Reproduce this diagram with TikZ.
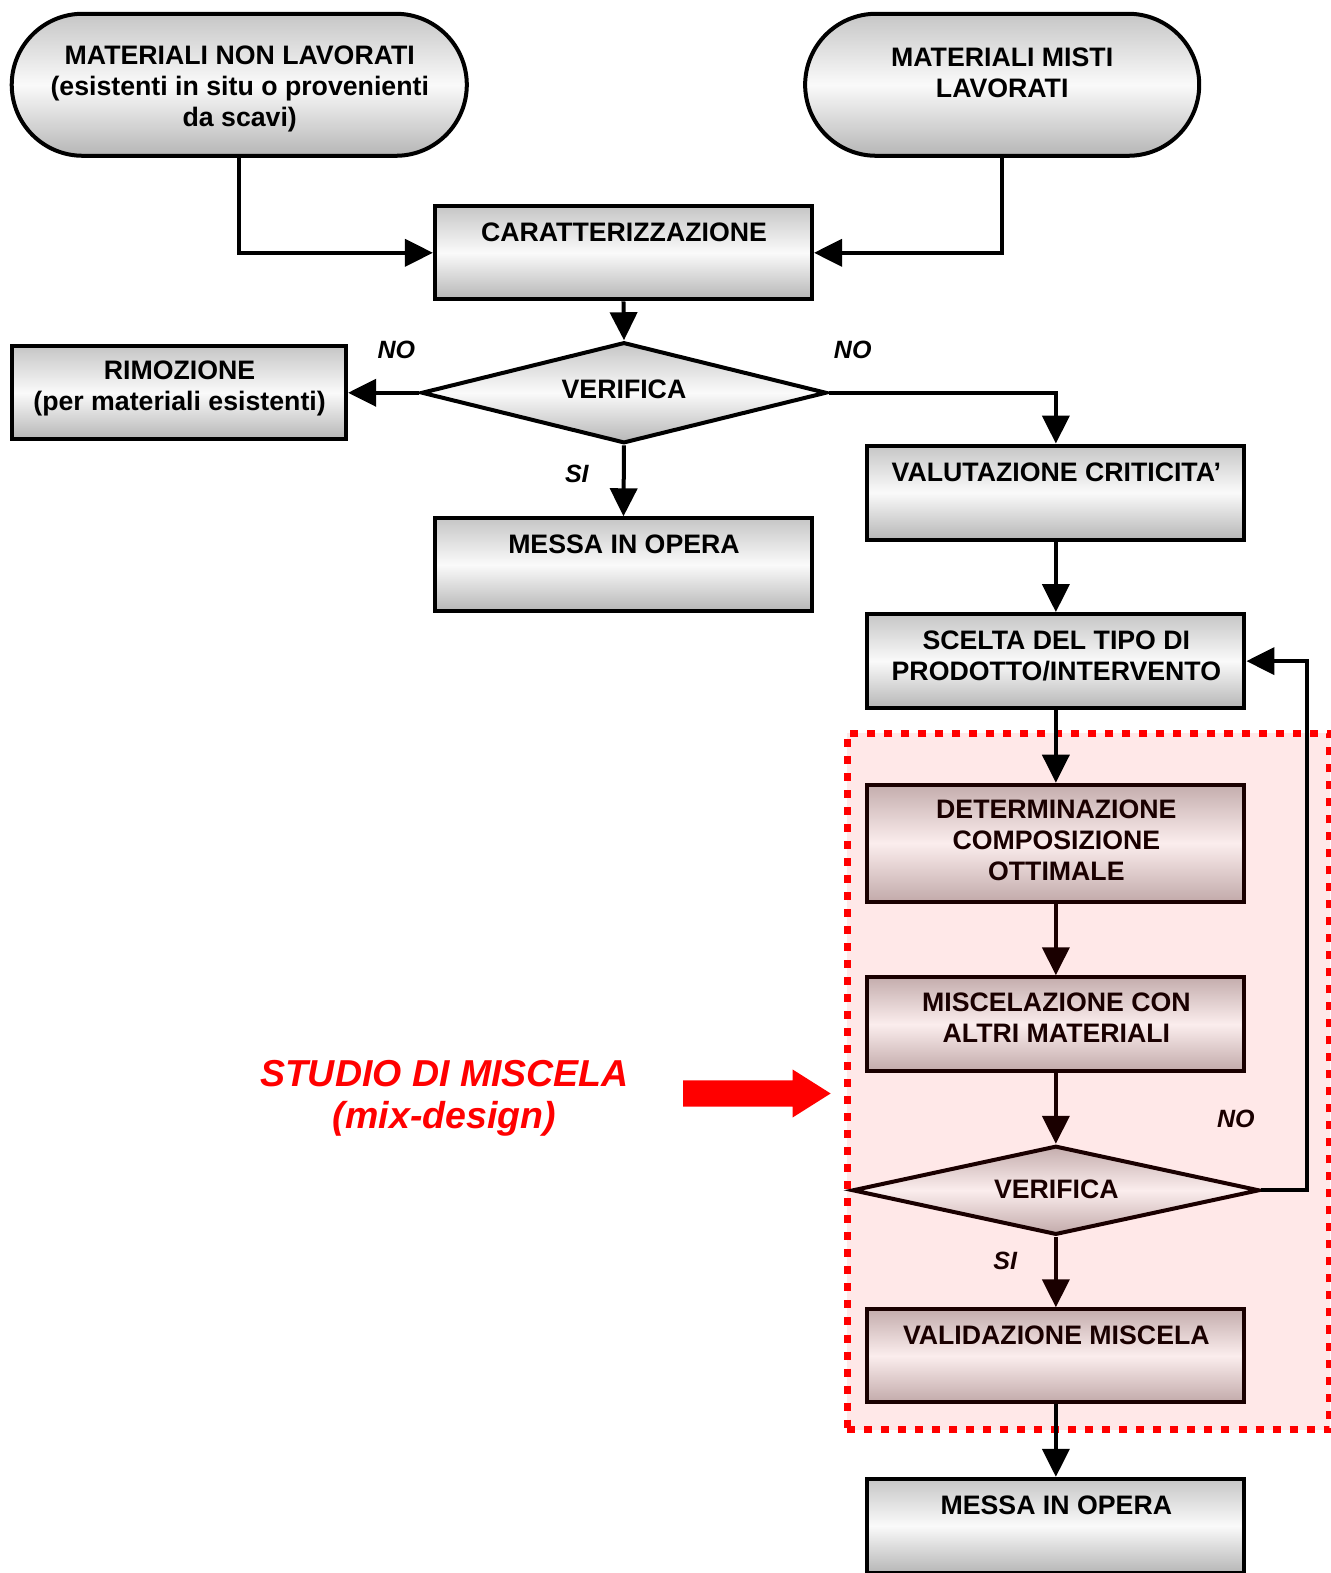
\documentclass[tikz,border=0pt]{standalone}
\usepackage{fontspec}
\setmainfont{Liberation Sans}
\usetikzlibrary{arrows.meta,shapes.geometric,shapes.misc}
\definecolor{gtop}{HTML}{C6C6C6}
\definecolor{gbot}{HTML}{B6B6B6}
\definecolor{gmid}{HTML}{FAFAFA}
\definecolor{ptop}{HTML}{C4ADAD}
\definecolor{pmid}{HTML}{FBEDED}
\definecolor{pbot}{HTML}{C2AAAA}
\definecolor{pline}{HTML}{1A0000}
\definecolor{regionbg}{HTML}{FFE8E8}
\definecolor{myred}{HTML}{FF0000}
\begin{document}
\begin{tikzpicture}[x=1.003pt,y=-1.003pt,
  graybox/.style={rectangle, draw=black, line width=4pt, inner sep=0pt,
    top color=gtop, bottom color=gbot, middle color=gmid},
  pinkbox/.style={rectangle, draw=pline, line width=4pt, inner sep=0pt,
    top color=ptop, bottom color=pbot, middle color=pmid},
  term/.style={rounded rectangle, draw=black, line width=4pt, inner sep=0pt,
    top color=gtop, bottom color=gbot, middle color=gmid},
  graydiam/.style={diamond, draw=black, line width=4pt, inner sep=0pt,
    top color=gtop, bottom color=gbot, middle color=gmid},
  pinkdiam/.style={diamond, draw=pline, line width=4pt, inner sep=0pt,
    top color=ptop, bottom color=pbot, middle color=pmid},
  txt/.style={align=center, inner sep=0pt, font=\fontsize{26.7}{31.1}\selectfont\bfseries},
  lbl/.style={inner sep=0pt, font=\fontsize{25}{28}\selectfont\bfseries\itshape},
  conn/.style={line width=4pt, draw=black, -{Triangle[width=27pt,length=28pt]}},
  pconn/.style={line width=4pt, draw=pline, -{Triangle[width=27pt,length=28pt]}},
  region/.style={rectangle, draw=myred, fill=regionbg, line width=7pt,
    dash pattern=on 8pt off 9pt, inner sep=0pt}
]
\useasboundingbox (0,0) rectangle (1326,1568);

% dashed mix-design region
\node[region, minimum width=482pt, minimum height=696pt] (mix) at (1085,1078) {};

% terminals
\node[term, minimum width=455pt, minimum height=142pt] (t1) at (238.5,84.5) {};
\node[term, minimum width=394pt, minimum height=142pt] (t2) at (999,84.5) {};
\node[txt] (t1t) at (239,88.5) {MATERIALI NON LAVORATI\\(esistenti in situ o provenienti\\da scavi)};
\node[txt] (t2t) at (999,73) {MATERIALI MISTI\\LAVORATI};

% gray boxes
\node[graybox, minimum width=377pt, minimum height=93pt] (carat) at (621.5,252) {};
\node[txt] (caratt) at (622,231.5) {CARATTERIZZAZIONE};

\node[graydiam, minimum width=405pt, minimum height=101pt] (d1) at (622,391.5) {};
\node[txt] (d1t) at (622,388.5) {VERIFICA};

\node[graybox, minimum width=334pt, minimum height=93pt] (rim) at (178.5,391.5) {};
\node[txt] (rimt) at (179,387) {RIMOZIONE\\(per materiali esistenti)};

\node[graybox, minimum width=377pt, minimum height=93pt] (messa1) at (621.5,563) {};
\node[txt] (messa1t) at (622,542.5) {MESSA IN OPERA};

\node[graybox, minimum width=377pt, minimum height=94pt] (valu) at (1052.5,491) {};
\node[txt] (valut) at (1053,470.5) {VALUTAZIONE CRITICITA’};

\node[graybox, minimum width=377pt, minimum height=94pt] (scelta) at (1052.5,659) {};
\node[txt] (sceltat) at (1053,654) {SCELTA DEL TIPO DI\\PRODOTTO/INTERVENTO};

% pink boxes
\node[pinkbox, minimum width=377pt, minimum height=117pt] (det) at (1052.5,840.5) {};
\node[txt, text=pline] (dett) at (1053,837.5) {DETERMINAZIONE\\COMPOSIZIONE\\OTTIMALE};

\node[pinkbox, minimum width=377pt, minimum height=94pt] (misc) at (1052.5,1021) {};
\node[txt, text=pline] (misct) at (1053,1014.5) {MISCELAZIONE CON\\ALTRI MATERIALI};

\node[pinkdiam, minimum width=407pt, minimum height=89pt] (d2) at (1052.5,1186.5) {};
\node[txt, text=pline] (d2t) at (1053,1185.5) {VERIFICA};

\node[pinkbox, minimum width=377pt, minimum height=93pt] (vali) at (1052.5,1351.5) {};
\node[txt, text=pline] (valit) at (1053,1331.5) {VALIDAZIONE MISCELA};

\node[graybox, minimum width=377pt, minimum height=94pt] (messa2) at (1052.5,1521) {};
\node[txt] (messa2t) at (1053,1500.5) {MESSA IN OPERA};

% connectors
\draw[conn] (t1.south) |- (carat.west);
\draw[conn] (t2.south) |- (carat.east);
\draw[conn] (carat.south) -- (d1.north);
\draw[conn] (d1.west) -- (rim.east);
\draw[conn] (d1.east) -| (valu.north);
\draw[conn] (d1.south) -- (messa1.north);
\draw[conn] (valu.south) -- (scelta.north);
\draw[conn] (scelta.south) -- (det.north);
\draw[pconn] (det.south) -- (misc.north);
\draw[pconn] (misc.south) -- (d2.north);
\coordinate (loopc) at (1303,1186.5);
\draw[conn] (d2.east) -- (loopc) |- (scelta.east);
\draw[pconn] (d2.south) -- (vali.north);
\draw[conn] (vali.south) -- (messa2.north);

% labels
\node[lbl] (no1) at (395,349) {NO};
\node[lbl] (no2) at (850,349) {NO};
\node[lbl] (si1) at (575,472) {SI};
\node[lbl, text=pline] (no3) at (1232,1115) {NO};
\node[lbl, text=pline] (si2) at (1002,1257) {SI};

% studio di miscela
\node[align=center, inner sep=0pt, text=myred,
  font=\fontsize{37.5}{42}\selectfont\bfseries\itshape] (studio) at (443,1094.5) {STUDIO DI MISCELA\\(mix-design)};
\fill[myred] (681,1077) -- (790,1077) -- (790,1066) -- (828,1090) -- (790,1114) -- (790,1103) -- (681,1103) -- cycle;
\end{tikzpicture}
\end{document}
